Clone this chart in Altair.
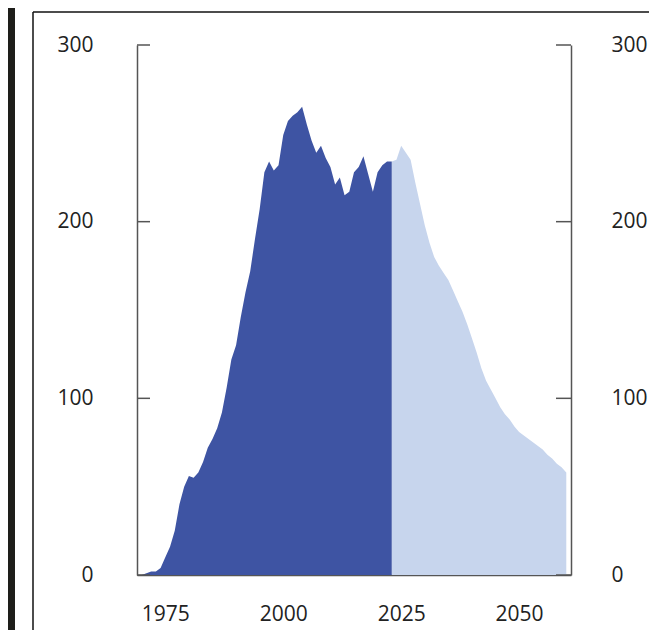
import altair as alt
import pandas as pd

# ---- data ----
hist_years = list(range(1970, 2024))
hist_values = [0, 1, 2, 2, 4, 10, 16, 25, 40, 50,
               56, 55, 58, 64, 72, 77, 83, 92, 106, 122,
               130, 146, 160, 172, 190, 207, 228, 234, 229, 232,
               249, 257, 260, 262, 265, 255, 246, 239, 243, 236,
               231, 221, 225, 215, 217, 228, 231, 237, 227, 217,
               228, 232, 234, 234]

proj_years = list(range(2023, 2061))
proj_values = [234, 235, 243, 239, 235, 222, 210, 198, 188, 180,
               175, 171, 167, 161, 155, 149, 142, 134, 126, 117,
               110, 105, 100, 95, 91, 88, 84, 81, 79, 77,
               75, 73, 71, 68, 66, 63, 61, 58]

x_ticks = [1975, 2000, 2025, 2050]
y_ticks = [0, 100, 200, 300]

DARK = "#3e54a3"
LIGHT = "#c7d5ed"
AXIS = "#555555"
TEXT = "#222222"
FONT = "Open Sans"

W, H = 434, 530

hist = pd.DataFrame({"year": hist_years, "value": hist_values})
proj = pd.DataFrame({"year": proj_years, "value": proj_values})
ticks = pd.DataFrame({"tick": y_ticks})
one = pd.DataFrame({"a": [0]})

xscale = alt.Scale(domain=[1969, 2061], nice=False, zero=False)
yscale = alt.Scale(domain=[0, 300], nice=False)

xaxis = alt.Axis(values=x_ticks, format="d", ticks=False, tickSize=0, grid=False,
                 domainColor=AXIS, domainWidth=1.5, labelFontSize=21, labelPadding=28,
                 labelColor=TEXT, labelFont=FONT, title=None)

def yaxis(orient, pad):
    return alt.Axis(orient=orient, values=y_ticks, ticks=False, tickSize=0, grid=False,
                    domainColor=AXIS, domainWidth=1.5, labelFontSize=21, labelPadding=pad,
                    labelColor=TEXT, labelFont=FONT, labelBaseline="middle", title=None)

hist_area = alt.Chart(hist).mark_area(color=DARK, opacity=1).encode(
    x=alt.X("year:Q", scale=xscale, axis=xaxis),
    y=alt.Y("value:Q", scale=yscale, axis=yaxis("left", 44)),
)

proj_area = alt.Chart(proj).mark_area(color=LIGHT, opacity=1).encode(
    x=alt.X("year:Q", scale=xscale, axis=xaxis),
    y=alt.Y("value:Q", scale=yscale, axis=yaxis("right", 40)),
)

left_ticks = alt.Chart(ticks).mark_rule(color=AXIS, strokeWidth=1.5).encode(
    y=alt.Y("tick:Q", scale=yscale, axis=None),
    x=alt.value(0), x2=alt.value(13),
)
right_ticks = alt.Chart(ticks).mark_rule(color=AXIS, strokeWidth=1.5).encode(
    y=alt.Y("tick:Q", scale=yscale, axis=None),
    x=alt.value(W - 15), x2=alt.value(W),
)

# photo frame decoration
dark_strip = alt.Chart(one).mark_rect(color="#1e1e1a").encode(
    x=alt.value(-129), x2=alt.value(-122), y=alt.value(-37), y2=alt.value(H + 60),
)
frame_top = alt.Chart(one).mark_rule(color="#111111", strokeWidth=1.5).encode(
    x=alt.value(-104), x2=alt.value(W + 90), y=alt.value(-33),
)
frame_left = alt.Chart(one).mark_rule(color="#111111", strokeWidth=1.5).encode(
    x=alt.value(-104), y=alt.value(-33), y2=alt.value(H + 60),
)

chart = alt.layer(
    dark_strip, frame_top, frame_left, proj_area, hist_area, left_ticks, right_ticks
).resolve_axis(y="independent").properties(
    width=W, height=H,
    padding={"left": 129, "top": 37, "right": 78, "bottom": 55},
    autosize=alt.AutoSizeParams(type="none"),
    background="white",
).configure_view(stroke=None)

chart.save("out.html", embed_options={"renderer": "svg", "actions": False})
